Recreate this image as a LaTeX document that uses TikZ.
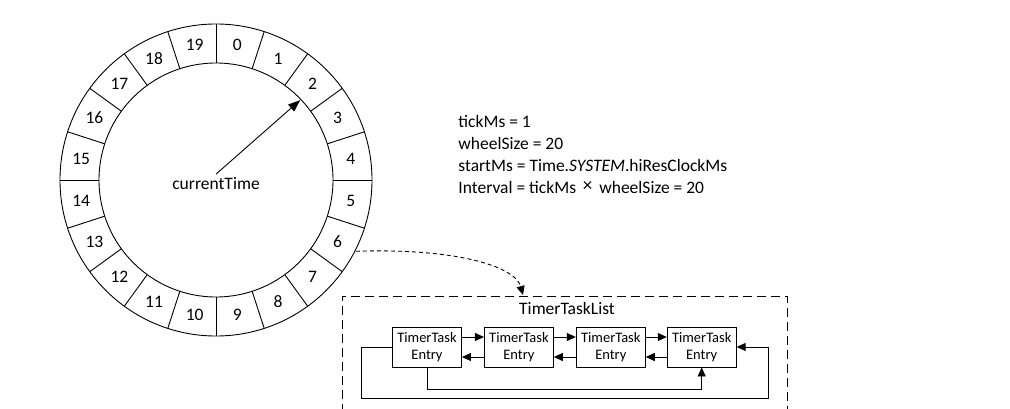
\documentclass[tikz,border=0pt]{standalone}
\usepackage{fontspec}
\setmainfont{Carlito}
\usetikzlibrary{positioning,calc,arrows.meta}

\begin{document}
\begin{tikzpicture}[x=1pt,y=1pt,line width=0.9pt,
  slot/.style={font=\fontsize{17.5}{21.7}\selectfont},
  entry/.style={draw,minimum width=69pt,minimum height=40pt,inner sep=1pt,
    align=center,font=\fontsize{14.5}{16.5}\selectfont},
  link/.style={-{Triangle[length=9pt,width=8pt]}}]
\useasboundingbox (0,0) rectangle (1010,408);

% the wheel
\coordinate (c) at (216,228);
\draw (c) circle (156pt);
\draw (c) circle (117pt);
\foreach \k in {0,...,19}{
  \draw ($(c)+(90-18*\k:117pt)$) -- ($(c)+(90-18*\k:156pt)$);
  \node[slot] (s\k) at ($(c)+(81-18*\k:136.5pt)$) {\k};
}

\node[slot] (ct) at (216,224) {currentTime};
\coordinate (hand) at ($(c)+(43.5:116pt)$);
\draw[link,-{Triangle[length=12pt,width=9pt]}] (ct.north) -- (hand);

% parameters
\node[slot,anchor=west,align=left,inner sep=0pt] (param) at (458,253.5)
  {tickMs = 1\\
   wheelSize = 20\\
   startMs = Time.\textit{SYSTEM}.hiResClockMs\\
   Interval = tickMs \,\raisebox{2pt}{\fontsize{19}{19}\selectfont ×}\, wheelSize = 20};

% the list of slot 6
\node[draw,dash pattern=on 9pt off 5pt,minimum width=445pt,minimum height=150pt,
  anchor=north west] (list) at (342,112) {};
\node[slot] (title) at (567,100) {TimerTaskList};

\node[entry] (e1) at (427,61) {TimerTask\\Entry};
\node[entry,right=22pt of e1] (e2) {TimerTask\\Entry};
\node[entry,right=22pt of e2] (e3) {TimerTask\\Entry};
\node[entry,right=21pt of e3] (e4) {TimerTask\\Entry};

\foreach \a/\b in {e1/e2,e2/e3,e3/e4}{
  \draw[link] ([yshift=10pt]\a.east) -- ([yshift=10pt]\b.west);
  \draw[link] ([yshift=-10pt]\b.west) -- ([yshift=-10pt]\a.east);
}
\draw[link] (e1.west) -| (361,10) -| (768,61) -- (e4.east);
\draw[link] (e1.south) -- ++(0,-22) -| (e4.south);

\coordinate (slot6) at ($(c)+(-27:157pt)$);
\coordinate (listin) at (523,113);
\draw[link,dash pattern=on 4pt off 3pt] (slot6) .. controls (455,160) and (515,142) .. (listin);
\end{tikzpicture}
\end{document}
